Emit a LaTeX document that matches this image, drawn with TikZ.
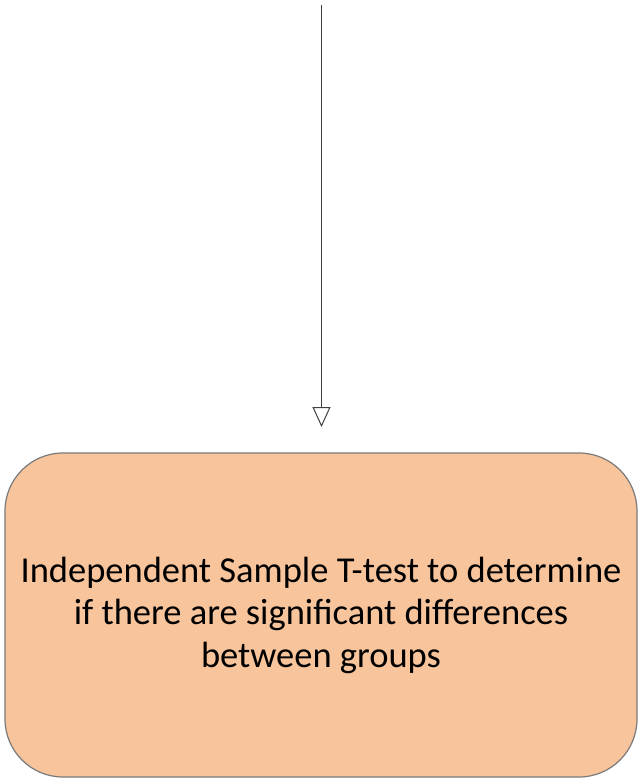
\documentclass[tikz,border=0pt]{standalone}
\usepackage{fontspec}
\setmainfont{Carlito}
\usetikzlibrary{arrows.meta}
\definecolor{boxfill}{HTML}{F8C49C}
\definecolor{boxline}{HTML}{7A7A7A}
\definecolor{wire}{HTML}{404040}
\tikzset{
  stepbox/.style={draw=boxline, line width=1.2pt, fill=boxfill, rounded corners=58pt,
    minimum width=632pt, minimum height=324pt, inner sep=0pt,
    align=center, font=\fontsize{36.5pt}{42.5pt}\selectfont},
  flow/.style={draw=wire, line width=1pt,
    -{Triangle[open, length=20pt, width=18pt, line width=1pt]}}
}
\begin{document}
\begin{tikzpicture}[x=1pt, y=-1pt]
  \useasboundingbox (0,0) rectangle (638,778);
  \node[stepbox] (ttest) at (321,615)
    {Independent Sample T-test to determine\\
     if there are significant differences\\
     between groups};
  \coordinate (src) at (321.5,5);
  \coordinate (end) at (321.5,427);
  \draw[flow] (src) -- (end);
\end{tikzpicture}
\end{document}
